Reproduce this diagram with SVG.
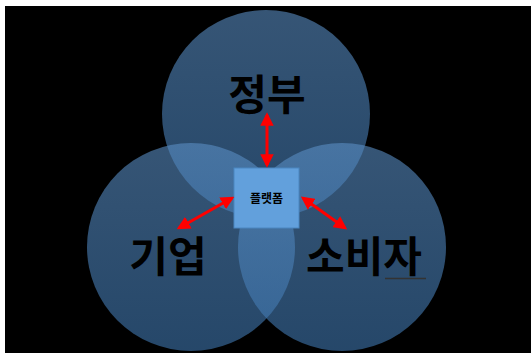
<svg xmlns="http://www.w3.org/2000/svg" width="531" height="355" viewBox="0 0 531 355">
<style>
.circ{fill:url(#g);fill-opacity:0.6}
.big{font-family:"Noto Sans CJK KR","Noto Sans",sans-serif;font-weight:bold;font-size:42px;fill:#000;text-anchor:middle}
.small{font-family:"Noto Sans CJK KR","Noto Sans",sans-serif;font-weight:bold;font-size:12px;fill:#000;text-anchor:middle}
.arr{stroke:#f00;stroke-width:3;fill:none;marker-start:url(#ah);marker-end:url(#ah)}
</style>
<defs>
<linearGradient id="g" x1="0" y1="0" x2="0" y2="1">
<stop offset="0" stop-color="#5a8ec4"/>
<stop offset="1" stop-color="#3f77b0"/>
</linearGradient>
<marker id="ah" viewBox="0 0 10 10" refX="8" refY="5" markerWidth="4.5" markerHeight="4.5" orient="auto-start-reverse" markerUnits="strokeWidth">
<path d="M0,0 L10,5 L0,10 z" fill="#f00"/>
</marker>
</defs>
<rect x="0" y="0" width="531" height="355" fill="#fff"/>
<rect x="5" y="6" width="526" height="347" fill="#000"/>
<g id="gov"><circle class="circ" cx="266" cy="114" r="104"/></g>
<g id="biz"><circle class="circ" cx="191" cy="247" r="104"/></g>
<g id="cons"><circle class="circ" cx="342" cy="247" r="104"/></g>
<g id="platform">
<rect x="234" y="168" width="65" height="60" fill="#62a0dc" stroke="#4a86c0" stroke-width="1"/>
<text class="small" x="266.5" y="203">플랫폼</text>
</g>
<g id="labels">
<text class="big" x="267" y="110">정부</text>
<text class="big" x="168" y="272">기업</text>
<text class="big" x="364" y="272">소비자</text>
<line x1="385" y1="278.5" x2="426" y2="278.5" stroke="#333" stroke-width="1.5"/>
</g>
<g id="connectors">
<line class="arr" x1="267" y1="115" x2="267" y2="165"/>
<line class="arr" x1="179" y1="228" x2="232" y2="198"/>
<line class="arr" x1="303" y1="198" x2="345" y2="228"/>
</g>
</svg>
